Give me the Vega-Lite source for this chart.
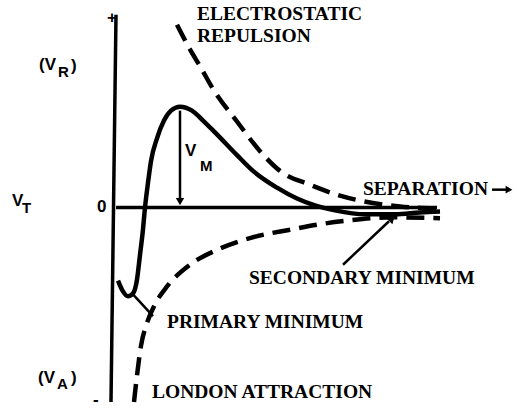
{
  "$schema": "https://vega.github.io/schema/vega-lite/v6.json",
  "width": 517,
  "height": 411,
  "autosize": {"type": "fit", "contains": "padding"},
  "padding": 0,
  "background": "white",
  "config": {"view": {"stroke": null}},
  "datasets": {
    "axes": [
      {"part": "energy", "k": 0, "sep": 0, "v": 195},
      {"part": "energy", "k": 1, "sep": -5, "v": -197},
      {"part": "separation", "k": 0, "sep": 0, "v": 0},
      {"part": "separation", "k": 1, "sep": 321, "v": 0}
    ],
    "total": [
      {"sep": 2, "v": -74}, {"sep": 7, "v": -85}, {"sep": 12, "v": -90},
      {"sep": 17, "v": -87}, {"sep": 21, "v": -73}, {"sep": 24, "v": -48},
      {"sep": 27, "v": -22}, {"sep": 29, "v": 0}, {"sep": 32, "v": 25},
      {"sep": 35, "v": 47}, {"sep": 41, "v": 70}, {"sep": 48, "v": 88},
      {"sep": 55, "v": 98}, {"sep": 64, "v": 102}, {"sep": 76, "v": 98},
      {"sep": 87, "v": 88}, {"sep": 99, "v": 76}, {"sep": 121, "v": 53},
      {"sep": 137, "v": 37}, {"sep": 161, "v": 20}, {"sep": 181, "v": 9},
      {"sep": 199, "v": 2}, {"sep": 219, "v": -3}, {"sep": 249, "v": -7},
      {"sep": 279, "v": -7}, {"sep": 304, "v": -5}, {"sep": 324, "v": -4}
    ],
    "components": [
      {"curve": "repulsion", "sep": 61, "v": 185}, {"curve": "repulsion", "sep": 74, "v": 160},
      {"curve": "repulsion", "sep": 84, "v": 143}, {"curve": "repulsion", "sep": 97, "v": 120},
      {"curve": "repulsion", "sep": 121, "v": 87}, {"curve": "repulsion", "sep": 144, "v": 57},
      {"curve": "repulsion", "sep": 164, "v": 37}, {"curve": "repulsion", "sep": 194, "v": 23},
      {"curve": "repulsion", "sep": 224, "v": 12}, {"curve": "repulsion", "sep": 254, "v": 5},
      {"curve": "repulsion", "sep": 284, "v": 1}, {"curve": "repulsion", "sep": 321, "v": -1},
      {"curve": "attraction", "sep": 18, "v": -197}, {"curve": "attraction", "sep": 21, "v": -170},
      {"curve": "attraction", "sep": 25, "v": -140}, {"curve": "attraction", "sep": 31, "v": -117},
      {"curve": "attraction", "sep": 39, "v": -98}, {"curve": "attraction", "sep": 51, "v": -80},
      {"curve": "attraction", "sep": 74, "v": -58}, {"curve": "attraction", "sep": 101, "v": -43},
      {"curve": "attraction", "sep": 134, "v": -31}, {"curve": "attraction", "sep": 177, "v": -22},
      {"curve": "attraction", "sep": 204, "v": -17}, {"curve": "attraction", "sep": 234, "v": -13},
      {"curve": "attraction", "sep": 277, "v": -10}, {"curve": "attraction", "sep": 324, "v": -11}
    ],
    "pointers": [
      {"name": "barrier", "k": 0, "sep": 64, "v": 98},
      {"name": "barrier", "k": 1, "sep": 64, "v": 8},
      {"name": "primary", "k": 0, "sep": 17, "v": -88},
      {"name": "primary", "k": 1, "sep": 37, "v": -110},
      {"name": "secondary", "k": 0, "sep": 227, "v": -58},
      {"name": "secondary", "k": 1, "sep": 273, "v": -14},
      {"name": "direction", "k": 0, "sep": 376, "v": 18},
      {"name": "direction", "k": 1, "sep": 390, "v": 18}
    ],
    "heads": [
      {"name": "barrier", "sep": 64, "v": 6},
      {"name": "secondary", "sep": 276, "v": -11},
      {"name": "direction", "sep": 393, "v": 18}
    ],
    "labels": [
      {"text": "ELECTROSTATIC", "sep": 81, "v": 190},
      {"text": "REPULSION", "sep": 81, "v": 167},
      {"text": "SEPARATION", "sep": 247, "v": 13},
      {"text": "SECONDARY MINIMUM", "sep": 133, "v": -78},
      {"text": "PRIMARY MINIMUM", "sep": 51, "v": -122},
      {"text": "LONDON ATTRACTION", "sep": 36, "v": -193}
    ],
    "symbols": [
      {"text": "(V", "sep": -77, "v": 139},
      {"text": ")", "sep": -45, "v": 138},
      {"text": "V", "sep": -104, "v": 1},
      {"text": "0", "sep": -19, "v": -5},
      {"text": "V", "sep": 69, "v": 52},
      {"text": "(V", "sep": -78, "v": -178},
      {"text": ")", "sep": -45, "v": -178},
      {"text": "+", "sep": -9, "v": 187},
      {"text": "-", "sep": -23, "v": -200}
    ],
    "subscripts": [
      {"text": "R", "sep": -58, "v": 132},
      {"text": "T", "sep": -94, "v": -6},
      {"text": "M", "sep": 84, "v": 37},
      {"text": "A", "sep": -59, "v": -184}
    ]
  },
  "encoding": {
    "x": {"field": "sep", "type": "quantitative", "scale": {"domain": [-116, 401], "nice": false, "zero": false}, "axis": null},
    "y": {"field": "v", "type": "quantitative", "scale": {"domain": [-201, 210], "nice": false, "zero": false}, "axis": null}
  },
  "layer": [
    {
      "data": {"name": "axes"},
      "mark": {"type": "line", "color": "black", "strokeWidth": 3.5},
      "encoding": {"detail": {"field": "part"}, "order": {"field": "k"}}
    },
    {
      "data": {"name": "total"},
      "mark": {"type": "line", "color": "black", "strokeWidth": 4.5, "interpolate": "monotone"}
    },
    {
      "data": {"name": "components"},
      "mark": {"type": "line", "color": "black", "strokeWidth": 4.5, "strokeDash": [18, 9], "interpolate": "monotone"},
      "encoding": {"detail": {"field": "curve"}}
    },
    {
      "data": {"name": "pointers"},
      "mark": {"type": "line", "color": "black", "strokeWidth": 2.5},
      "encoding": {"detail": {"field": "name"}, "order": {"field": "k"}}
    },
    {
      "data": {"name": "heads"},
      "transform": [{"filter": "datum.name === 'barrier'"}],
      "mark": {"type": "point", "shape": "triangle-down", "filled": true, "color": "black", "size": 70, "opacity": 1}
    },
    {
      "data": {"name": "heads"},
      "transform": [{"filter": "datum.name === 'secondary'"}],
      "mark": {"type": "point", "shape": "triangle-up", "angle": 45, "filled": true, "color": "black", "size": 80, "opacity": 1}
    },
    {
      "data": {"name": "heads"},
      "transform": [{"filter": "datum.name === 'direction'"}],
      "mark": {"type": "point", "shape": "triangle-right", "filled": true, "color": "black", "size": 60, "opacity": 1}
    },
    {
      "data": {"name": "labels"},
      "mark": {"type": "text", "align": "left", "baseline": "alphabetic", "font": "Liberation Serif", "fontWeight": "bold", "fontSize": 19.5, "color": "black"},
      "encoding": {"text": {"field": "text"}}
    },
    {
      "data": {"name": "symbols"},
      "mark": {"type": "text", "align": "left", "baseline": "alphabetic", "font": "Liberation Sans", "fontWeight": "bold", "fontSize": 17, "color": "black"},
      "encoding": {"text": {"field": "text"}}
    },
    {
      "data": {"name": "subscripts"},
      "mark": {"type": "text", "align": "left", "baseline": "alphabetic", "font": "Liberation Sans", "fontWeight": "bold", "fontSize": 15, "color": "black"},
      "encoding": {"text": {"field": "text"}}
    }
  ]
}
